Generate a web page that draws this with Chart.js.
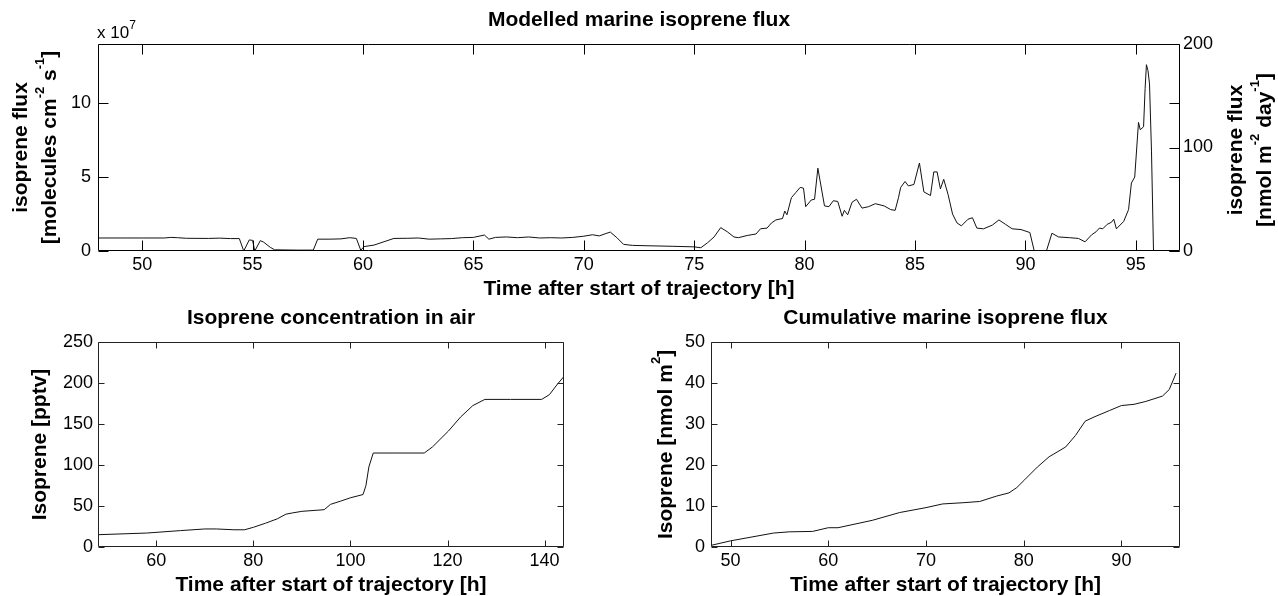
<!DOCTYPE html>
<html>
<head>
<meta charset="utf-8">
<script src="https://cdn.jsdelivr.net/npm/chart.js@4.4.0/dist/chart.umd.min.js"></script>
<style>
  body { margin: 0; background: #fff; width: 1278px; height: 596px; overflow: hidden; position: relative; }
  .panel { position: absolute; }
</style>
</head>
<body>
<div class="panel" style="left:0;top:0"><canvas id="fluxChart" width="1278" height="300"></canvas></div>
<div class="panel" style="left:0;top:300px"><canvas id="concChart" width="640" height="296"></canvas></div>
<div class="panel" style="left:640px;top:300px"><canvas id="cumChart" width="638" height="296"></canvas></div>
<script>
// modelled flux, hours after trajectory start / flux in units of 1e7 molecules cm-2 s-1
const fluxTime = [48.0, 49.0, 50.0, 51.0, 51.3, 51.6, 52.0, 53.0, 53.5, 54.0, 54.4, 54.6, 54.85, 55.0, 55.1, 55.35, 55.5, 55.8, 56.0, 57.0,
  57.75, 57.95, 58.5, 59.0, 59.4, 59.7, 59.9, 60.05, 60.5, 61.0, 61.4, 62.0, 62.5, 63.0, 63.5, 64.0, 64.5, 65.0, 65.5, 65.7,
  66.0, 66.5, 67.0, 67.5, 68.0, 68.5, 69.0, 69.5, 70.0, 70.4, 70.7, 71.0, 71.2, 71.5, 71.8, 72.2, 73.0, 74.0, 75.0, 75.3,
  75.6, 75.9, 76.2, 76.5, 76.8, 77.0, 77.4, 77.8, 78.0, 78.3, 78.5, 78.7, 79.0, 79.1, 79.2, 79.4, 79.6, 79.8, 79.95, 80.05,
  80.3, 80.45, 80.6, 80.9, 81.1, 81.3, 81.5, 81.7, 81.8, 81.95, 82.15, 82.35, 82.6, 82.9, 83.2, 83.6, 83.9, 84.1, 84.25, 84.35,
  84.55, 84.7, 84.95, 85.2, 85.4, 85.7, 85.85, 86.0, 86.15, 86.3, 86.5, 86.7, 86.9, 87.1, 87.4, 87.6, 87.8, 88.1, 88.5, 88.8,
  89.1, 89.4, 89.8, 90.2, 90.4, 90.95, 91.2, 91.5, 92.0, 92.4, 92.7, 93.0, 93.2, 93.35, 93.5, 93.7, 93.9, 94.0, 94.12, 94.45,
  94.67, 94.8, 94.95, 95.12, 95.2, 95.35, 95.42, 95.48, 95.55, 95.62, 95.71, 95.8];
const fluxVal = [0.88, 0.88, 0.88, 0.88, 0.92, 0.90, 0.86, 0.85, 0.87, 0.84, 0.84, 0.0, 0.75, 0.72, 0.0, 0.70, 0.60, 0.25, 0.08, 0.06,
  0.06, 0.80, 0.80, 0.82, 0.90, 0.85, 0.05, 0.30, 0.40, 0.65, 0.85, 0.86, 0.88, 0.80, 0.82, 0.84, 0.90, 0.92, 1.08, 0.80,
  0.92, 0.95, 0.90, 0.95, 0.88, 0.90, 0.88, 0.92, 1.00, 1.10, 1.02, 1.18, 1.28, 0.90, 0.45, 0.38, 0.35, 0.32, 0.28, 0.22,
  0.55, 0.95, 1.58, 1.30, 0.95, 0.90, 1.05, 1.15, 1.50, 1.55, 1.90, 2.10, 2.20, 2.70, 2.45, 3.60, 3.95, 4.30, 4.25, 3.00,
  3.45, 3.50, 5.60, 3.05, 3.00, 3.40, 3.35, 2.35, 2.75, 2.45, 3.30, 3.50, 2.90, 3.00, 3.20, 3.05, 2.80, 2.75, 3.60, 4.30,
  4.70, 4.40, 4.50, 5.95, 4.00, 3.75, 5.35, 5.35, 4.20, 4.85, 3.80, 2.50, 1.90, 1.70, 2.15, 2.25, 1.55, 1.50, 1.75, 2.10,
  1.80, 1.50, 1.45, 1.25, 0.0, 0.0, 1.20, 0.95, 0.90, 0.85, 0.62, 1.10, 1.30, 1.55, 1.50, 1.80, 1.95, 2.15, 1.50, 2.00,
  2.80, 4.60, 5.00, 8.70, 8.20, 8.40, 11.0, 12.6, 12.2, 11.3, 6.70, 0.0];

// isoprene mixing ratio in air [pptv]
const concTime = [48, 58, 65, 70, 72.4, 76, 78.2, 80, 82.5, 85, 86.7, 88, 90, 94.6, 95.9, 98, 100, 102.6, 103.2, 103.8,
  104.7, 110, 115.2, 116.9, 120.2, 122.7, 125.2, 127.7, 133, 139.4, 141, 142.7, 144];
const concVal = [15, 17, 20, 22, 22, 21, 21, 24, 29, 34.5, 40, 41.5, 43.5, 45.5, 52, 56, 60, 64, 75, 97.6,
  114.6, 114.6, 114.6, 122, 141.5, 158.5, 172.4, 180, 180, 180, 185.8, 199, 208];

// cumulative marine flux [nmol m-2]
const cumTime = [48, 50, 54.4, 56, 58.4, 60, 61, 64.5, 67.3, 70, 71.7, 73.8, 75.5, 77.2, 78.5, 79.3, 80.1, 81.4, 82.6, 84.3,
  85.3, 86.3, 87.2, 88.8, 90, 91.3, 92.5, 94.2, 94.9, 95.6];
const cumVal = [0.4, 1.5, 3.4, 3.7, 3.8, 4.7, 4.7, 6.5, 8.4, 9.6, 10.5, 10.8, 11.1, 12.4, 13.2, 14.5, 16.4, 19.5, 22, 24.4,
  27.2, 30.7, 31.7, 33.3, 34.5, 34.8, 35.5, 36.8, 38.4, 42.4];

const FONT = "'Liberation Sans', Arial, Helvetica, sans-serif";
Chart.defaults.font.family = FONT;
Chart.defaults.color = '#000';
Chart.defaults.animation = false;

const toPoints = (xs, ys) => xs.map((x, i) => ({ x: x, y: ys[i] }));

// text with superscripts, optionally rotated; x/y is the baseline centre
function drawRich(ctx, lab) {
  const supSize = lab.supSize || Math.round(lab.size * 0.64);
  const mainFont = `${lab.weight} ${lab.size}px ${FONT}`;
  const supFont = `${lab.weight} ${supSize}px ${FONT}`;
  const widths = lab.parts.map(p => {
    ctx.font = p.sup ? supFont : mainFont;
    return ctx.measureText(p.text).width;
  });
  const total = widths.reduce((a, b) => a + b, 0);
  ctx.save();
  ctx.translate(lab.x, lab.y);
  if (lab.rotate) ctx.rotate(lab.rotate);
  ctx.fillStyle = '#000';
  ctx.textAlign = 'left';
  ctx.textBaseline = 'alphabetic';
  let x = lab.align === 'left' ? 0 : -total / 2;
  lab.parts.forEach((p, i) => {
    ctx.font = p.sup ? supFont : mainFont;
    ctx.fillText(p.text, x, p.sup ? -lab.size * (lab.raise || 0.5) : 0);
    x += widths[i];
  });
  ctx.restore();
}

// boxed axes with inward tick marks, plus extra text labels
const boxedAxes = {
  id: 'boxedAxes',
  afterDraw(chart, args, opts) {
    const { ctx, chartArea: a, scales } = chart;
    const len = opts.tickLength;
    ctx.save();
    ctx.strokeStyle = opts.color;
    ctx.lineWidth = 1;
    ctx.beginPath();
    const L = Math.round(a.left) + 0.5, R = Math.round(a.right) - 0.5;
    const T = Math.round(a.top) + 0.5, B = Math.round(a.bottom) - 0.5;
    ctx.rect(L, T, R - L, B - T);
    scales.x.ticks.forEach(t => {
      const px = Math.round(scales.x.getPixelForValue(t.value)) + 0.5;
      ctx.moveTo(px, B); ctx.lineTo(px, B - len);
      ctx.moveTo(px, T); ctx.lineTo(px, T + len);
    });
    scales.y.ticks.forEach(t => {
      const py = Math.round(scales.y.getPixelForValue(t.value)) + 0.5;
      ctx.moveTo(L, py); ctx.lineTo(L + len, py);
      ctx.moveTo(R, py); ctx.lineTo(R - len, py);
    });
    if (scales.y2) {
      scales.y2.ticks.forEach(t => {
        const py = Math.round(scales.y2.getPixelForValue(t.value)) + 0.5;
        ctx.moveTo(R, py); ctx.lineTo(R - len, py);
      });
    }
    ctx.stroke();
    ctx.restore();
    (opts.labels || []).forEach(l => drawRich(ctx, l));
  }
};
Chart.register(boxedAxes);

const tickFont = { size: 18 };
const labelFont = { size: 21, weight: 'bold', lineHeight: 1 };
const noGrid = { display: false, drawTicks: false };
const ROT = -Math.PI / 2;

function lineDataset(xs, ys) {
  return {
    data: toPoints(xs, ys),
    borderColor: '#111',
    borderWidth: 1,
    pointRadius: 0,
    tension: 0
  };
}

function xAxis(min, max, step) {
  return {
    type: 'linear', min: min, max: max,
    grid: noGrid, border: { display: false },
    ticks: { stepSize: step, includeBounds: false, padding: 3, font: tickFont, maxRotation: 0 },
    title: { display: true, text: 'Time after start of trajectory [h]', font: labelFont, padding: { top: 0, bottom: 0 } },
    afterFit: s => { s.height = 49; }
  };
}

// upper panel: flux with a second (nmol m-2 day-1) axis on the right
new Chart(document.getElementById('fluxChart'), {
  type: 'line',
  data: { datasets: [lineDataset(fluxTime, fluxVal)] },
  options: {
    responsive: false,
    layout: { padding: 0 },
    plugins: {
      legend: { display: false },
      tooltip: { enabled: false },
      title: { display: true, text: 'Modelled marine isoprene flux', font: { size: 21, weight: 'bold' }, padding: { top: 7.4, bottom: 11.4 } },
      boxedAxes: {
        color: '#000', tickLength: 10,
        labels: [
          { x: 97, y: 38, size: 17, weight: 'normal', align: 'left', supSize: 12, raise: 0.55,
            parts: [{ text: 'x 10' }, { text: '7', sup: true }] },
          { x: 27, y: 147.5, rotate: ROT, size: 21, weight: 'bold', parts: [{ text: 'isoprene flux' }] },
          { x: 56, y: 147.5, rotate: ROT, size: 21, weight: 'bold', supSize: 13, raise: 0.55,
            parts: [{ text: '[molecules cm' }, { text: '-2', sup: true }, { text: ' s' }, { text: '-1', sup: true }, { text: ']' }] },
          { x: 1242, y: 150, rotate: ROT, size: 21, weight: 'bold', parts: [{ text: 'isoprene flux' }] },
          { x: 1271, y: 150, rotate: ROT, size: 21, weight: 'bold', supSize: 13, raise: 0.55,
            parts: [{ text: '[nmol m' }, { text: '-2', sup: true }, { text: ' day' }, { text: '-1', sup: true }, { text: ']' }] }
        ]
      }
    },
    scales: {
      x: xAxis(48, 97, 5),
      y: {
        min: 0, max: 14, position: 'left',
        grid: noGrid, border: { display: false },
        ticks: { stepSize: 5, includeBounds: false, padding: 7, font: tickFont },
        afterFit: s => { s.width = 98; }
      },
      y2: {
        min: 0, max: 200, position: 'right',
        grid: noGrid, border: { display: false },
        ticks: { stepSize: 100, padding: 3, font: tickFont },
        afterFit: s => { s.width = 98; }
      }
    }
  }
});

// lower left: concentration in air
new Chart(document.getElementById('concChart'), {
  type: 'line',
  data: { datasets: [lineDataset(concTime, concVal)] },
  options: {
    responsive: false,
    layout: { padding: { left: 0, right: 76, top: 0, bottom: 0 } },
    plugins: {
      legend: { display: false },
      tooltip: { enabled: false },
      title: { display: true, fullSize: false, text: 'Isoprene concentration in air', font: { size: 21, weight: 'bold' }, padding: { top: 5.4, bottom: 11.4 } },
      boxedAxes: { color: '#222', tickLength: 6 }
    },
    scales: {
      x: xAxis(48, 144, 20),
      y: {
        min: 0, max: 250,
        grid: noGrid, border: { display: false },
        ticks: { stepSize: 50, padding: 5, font: tickFont },
        title: { display: true, text: 'Isoprene [pptv]', font: labelFont, padding: { top: 29.5, bottom: 0 } },
        afterFit: s => { s.width = 98; }
      }
    }
  }
});

// lower right: cumulative flux
new Chart(document.getElementById('cumChart'), {
  type: 'line',
  data: { datasets: [lineDataset(cumTime, cumVal)] },
  options: {
    responsive: false,
    layout: { padding: { left: 0, right: 98, top: 0, bottom: 0 } },
    plugins: {
      legend: { display: false },
      tooltip: { enabled: false },
      title: { display: true, fullSize: false, text: 'Cumulative marine isoprene flux', font: { size: 21, weight: 'bold' }, padding: { top: 5.4, bottom: 11.4 } },
      boxedAxes: {
        color: '#222', tickLength: 6,
        labels: [
          { x: 32, y: 144.5, rotate: ROT, size: 21, weight: 'bold', supSize: 13, raise: 0.55,
            parts: [{ text: 'Isoprene [nmol m' }, { text: '2', sup: true }, { text: ']' }] }
        ]
      }
    },
    scales: {
      x: xAxis(48, 96, 10),
      y: {
        min: 0, max: 50,
        grid: noGrid, border: { display: false },
        ticks: { stepSize: 10, padding: 6, font: tickFont },
        afterFit: s => { s.width = 71; }
      }
    }
  }
});
</script>
</body>
</html>
